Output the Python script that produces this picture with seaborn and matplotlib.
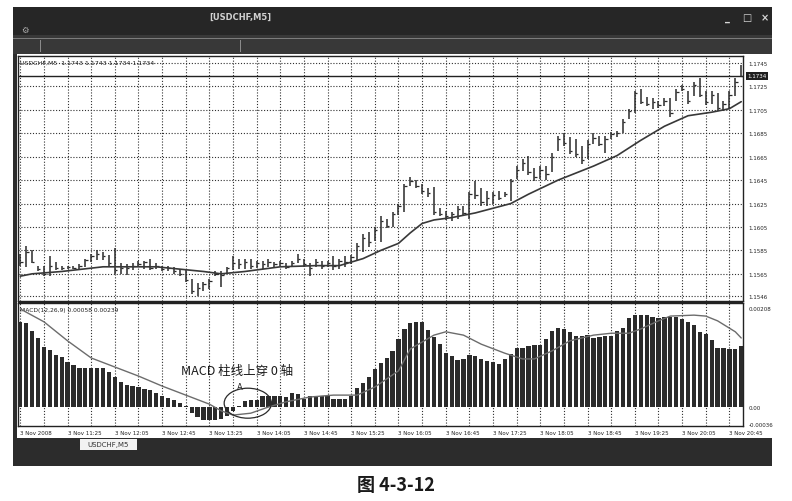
import numpy as np
import pandas as pd
import seaborn as sns
import matplotlib.pyplot as plt
from matplotlib.patches import Rectangle, Ellipse
from matplotlib.transforms import blended_transform_factory

# ---- data (USDCHF M5, 3 Nov 2008) ----
highs = [1.1582, 1.1589, 1.1585, 1.1572, 1.1572, 1.1580, 1.1575, 1.1572, 1.1572, 1.1572,
         1.1573, 1.1578, 1.1582, 1.1585, 1.1584, 1.1581, 1.1587, 1.1574, 1.1573, 1.1574,
         1.1576, 1.1576, 1.1578, 1.1574, 1.1572, 1.1572, 1.1571, 1.1569, 1.1568, 1.1561,
         1.1557, 1.1558, 1.1561, 1.1567, 1.1567, 1.1571, 1.1580, 1.1578, 1.1578, 1.1578,
         1.1576, 1.1576, 1.1578, 1.1575, 1.1576, 1.1574, 1.1576, 1.1582, 1.1578, 1.1574,
         1.1578, 1.1576, 1.1576, 1.1580, 1.1578, 1.1580, 1.1581, 1.1591, 1.1599, 1.1601,
         1.1605, 1.1614, 1.1612, 1.1618, 1.1625, 1.1642, 1.1648, 1.1645, 1.1642, 1.1638,
         1.1639, 1.1621, 1.1619, 1.1618, 1.1623, 1.1623, 1.1635, 1.1644, 1.1638, 1.1636,
         1.1635, 1.1636, 1.1635, 1.1646, 1.1657, 1.1663, 1.1666, 1.1655, 1.1657, 1.1657,
         1.1668, 1.1683, 1.1685, 1.1682, 1.1680, 1.1674, 1.1679, 1.1685, 1.1683, 1.1683,
         1.1686, 1.1687, 1.1697, 1.1706, 1.1721, 1.1723, 1.1716, 1.1715, 1.1713, 1.1715,
         1.1715, 1.1723, 1.1726, 1.1721, 1.1729, 1.1732, 1.1721, 1.1721, 1.1719, 1.1713,
         1.1721, 1.1732, 1.1743]
lows = [1.1572, 1.1571, 1.1574, 1.1567, 1.1563, 1.1563, 1.1568, 1.1568, 1.1569, 1.1569,
        1.1569, 1.1571, 1.1575, 1.1577, 1.1577, 1.1571, 1.1565, 1.1565, 1.1564, 1.1568,
        1.1571, 1.1569, 1.1568, 1.1569, 1.1567, 1.1567, 1.1565, 1.1563, 1.1558, 1.1548,
        1.1546, 1.1550, 1.1552, 1.1563, 1.1554, 1.1565, 1.1568, 1.1569, 1.1569, 1.1569,
        1.1570, 1.1569, 1.1571, 1.1571, 1.1572, 1.1569, 1.1571, 1.1574, 1.1571, 1.1563,
        1.1571, 1.1569, 1.1571, 1.1568, 1.1569, 1.1571, 1.1573, 1.1576, 1.1584, 1.1588,
        1.1593, 1.1592, 1.1604, 1.1605, 1.1615, 1.1618, 1.1640, 1.1638, 1.1633, 1.1631,
        1.1615, 1.1614, 1.1611, 1.1610, 1.1612, 1.1614, 1.1612, 1.1629, 1.1623, 1.1623,
        1.1625, 1.1628, 1.1631, 1.1627, 1.1646, 1.1653, 1.1649, 1.1644, 1.1646, 1.1645,
        1.1652, 1.1670, 1.1674, 1.1667, 1.1665, 1.1659, 1.1663, 1.1676, 1.1674, 1.1668,
        1.1680, 1.1682, 1.1685, 1.1697, 1.1702, 1.1710, 1.1708, 1.1706, 1.1707, 1.1708,
        1.1699, 1.1713, 1.1721, 1.1710, 1.1717, 1.1716, 1.1709, 1.1710, 1.1704, 1.1704,
        1.1706, 1.1717, 1.1734]
closes = [1.1575, 1.1584, 1.1575, 1.1569, 1.1565, 1.1572, 1.1570, 1.1570, 1.1571, 1.1570,
          1.1572, 1.1577, 1.1580, 1.1582, 1.1580, 1.1574, 1.1568, 1.1570, 1.1570, 1.1572,
          1.1573, 1.1575, 1.1570, 1.1572, 1.1569, 1.1570, 1.1567, 1.1565, 1.1560, 1.1550,
          1.1553, 1.1556, 1.1559, 1.1565, 1.1564, 1.1570, 1.1574, 1.1573, 1.1575, 1.1572,
          1.1574, 1.1573, 1.1575, 1.1573, 1.1574, 1.1571, 1.1574, 1.1578, 1.1573, 1.1570,
          1.1575, 1.1572, 1.1574, 1.1572, 1.1576, 1.1575, 1.1579, 1.1589, 1.1596, 1.1592,
          1.1602, 1.1610, 1.1606, 1.1616, 1.1623, 1.1640, 1.1644, 1.1640, 1.1636, 1.1634,
          1.1618, 1.1616, 1.1614, 1.1616, 1.1620, 1.1617, 1.1633, 1.1632, 1.1626, 1.1630,
          1.1632, 1.1630, 1.1633, 1.1644, 1.1654, 1.1660, 1.1652, 1.1648, 1.1654, 1.1650,
          1.1665, 1.1680, 1.1677, 1.1670, 1.1667, 1.1662, 1.1676, 1.1681, 1.1676, 1.1680,
          1.1684, 1.1685, 1.1695, 1.1704, 1.1719, 1.1712, 1.1710, 1.1712, 1.1709, 1.1713,
          1.1702, 1.1720, 1.1723, 1.1713, 1.1726, 1.1718, 1.1712, 1.1718, 1.1707, 1.1710,
          1.1718, 1.1729, 1.1734]

ma_idx = [0, 2, 7, 14, 23, 27, 31, 34, 38, 44, 50, 54, 56, 58, 61, 64, 66, 68, 70, 73,
          77, 83, 86, 91, 97, 101, 105, 109, 113, 117, 120, 122]
ma_val = [1.1563, 1.1565, 1.1567, 1.1571, 1.1571, 1.1569, 1.1567, 1.1565, 1.1567, 1.1571,
          1.1572, 1.1572, 1.1575, 1.1578, 1.1585, 1.1591, 1.1600, 1.1608, 1.1611, 1.1613,
          1.1617, 1.1625, 1.1633, 1.1645, 1.1657, 1.1666, 1.1679, 1.1691, 1.1700, 1.1703,
          1.1706, 1.1712]

macd_hist = [0.00179, 0.00176, 0.00160, 0.00145, 0.00126, 0.00120, 0.00109, 0.00105, 0.00095, 0.00088,
             0.00082, 0.00082, 0.00082, 0.00082, 0.00082, 0.00074, 0.00063, 0.00053, 0.00046, 0.00044,
             0.00042, 0.00038, 0.00036, 0.00029, 0.00023, 0.00019, 0.00015, 0.00008, 0.00002, -0.00013,
             -0.00021, -0.00027, -0.00027, -0.00027, -0.00025, -0.00019, -0.00008, 0.00002, 0.00013, 0.00015,
             0.00015, 0.00023, 0.00023, 0.00023, 0.00023, 0.00021, 0.00029, 0.00027, 0.00017, 0.00023,
             0.00023, 0.00023, 0.00023, 0.00017, 0.00017, 0.00017, 0.00023, 0.00040, 0.00050, 0.00063,
             0.00080, 0.00092, 0.00103, 0.00118, 0.00143, 0.00164, 0.00176, 0.00179, 0.00179, 0.00162,
             0.00147, 0.00132, 0.00113, 0.00107, 0.00099, 0.00101, 0.00109, 0.00107, 0.00101, 0.00097,
             0.00095, 0.00090, 0.00101, 0.00111, 0.00124, 0.00124, 0.00128, 0.00130, 0.00130, 0.00143,
             0.00160, 0.00166, 0.00164, 0.00158, 0.00149, 0.00149, 0.00151, 0.00145, 0.00147, 0.00149,
             0.00149, 0.00160, 0.00166, 0.00187, 0.00193, 0.00193, 0.00193, 0.00189, 0.00187, 0.00189,
             0.00189, 0.00189, 0.00185, 0.00179, 0.00172, 0.00158, 0.00153, 0.00141, 0.00124, 0.00124,
             0.00122, 0.00122, 0.00128]

sig_idx = [0, 4, 8, 12, 16, 20, 24, 28, 32, 34, 36, 39, 42, 45, 49, 53, 57, 60, 64, 66,
           70, 72, 75, 78, 82, 85, 87, 90, 93, 97, 100, 103, 105, 108, 110, 114, 116, 118, 121, 122]
sig_val = [0.00206, 0.00179, 0.00139, 0.00103, 0.00084, 0.00065, 0.00044, 0.00025, 0.00006, -0.00008,
           -0.00017, -0.00013, 0.00000, 0.00011, 0.00021, 0.00025, 0.00025, 0.00042, 0.00076, 0.00122,
           0.00151, 0.00158, 0.00151, 0.00132, 0.00113, 0.00101, 0.00101, 0.00118, 0.00139, 0.00151,
           0.00155, 0.00155, 0.00164, 0.00181, 0.00191, 0.00193, 0.00191, 0.00181, 0.00158, 0.00145]

price_ticks = [1.1745, 1.1725, 1.1705, 1.1685, 1.1665, 1.1645, 1.1625, 1.1605, 1.1585, 1.1565, 1.1546]
macd_ticks = [0.00208, 0.0, -0.00036]
macd_tick_labels = ["0.00208", "0.00", "-0.00036"]
time_pos = [0, 8, 16, 24, 32, 40, 48, 56, 64, 72, 80, 88, 96, 104, 112, 120]
time_labels = ["3 Nov 2008", "3 Nov 11:25", "3 Nov 12:05", "3 Nov 12:45", "3 Nov 13:25",
               "3 Nov 14:05", "3 Nov 14:45", "3 Nov 15:25", "3 Nov 16:05", "3 Nov 16:45",
               "3 Nov 17:25", "3 Nov 18:05", "3 Nov 18:45", "3 Nov 19:25", "3 Nov 20:05",
               "3 Nov 20:45"]
last_price = 1.1734

sns.set_theme(style="white")
plt.rcParams['font.family'] = ['DejaVu Sans', 'Noto Sans CJK SC']

W, H = 792, 502
fig = plt.figure(figsize=(W / 100, H / 100), dpi=100)
fig.patch.set_facecolor("white")


def fbox(x0, y0, x1, y1):
    # pixel box (top-left origin) -> figure fraction rect
    return (x0 / W, 1 - y1 / H), (x1 - x0) / W, (y1 - y0) / H


def frect(x0, y0, x1, y1, color, z=0):
    xy, w, h = fbox(x0, y0, x1, y1)
    fig.add_artist(Rectangle(xy, w, h, transform=fig.transFigure, facecolor=color,
                             edgecolor="none", zorder=z))


# window frame
frect(13, 8, 772, 467, "#2c2c2c")
frect(13, 8, 772, 36, "#262626")
frect(13, 36, 772, 55, "#383838")
frect(13, 38.5, 772, 40, "#7c7c7c")
for xx in [40, 240]:
    frect(xx, 41, xx + 1, 53, "#8a8a8a")
frect(17, 55, 772, 439, "white")
frect(80, 440, 137, 451, "#f2f2f2")
fig.text(108.5 / W, 1 - 445.5 / H, "USDCHF,M5", fontsize=5, color="#333333", ha="center", va="center")
fig.text(240 / W, 1 - 17 / H, "[USDCHF,M5]", fontsize=6, color="#d0d0d0", ha="center",
         va="center", fontweight="bold")
fig.text(25 / W, 1 - 30 / H, "\u2699", fontsize=6, color="#b0b0b0", ha="center", va="center")
for xx, s in [(727, "_"), (747, "\u25a1"), (765, "\u00d7")]:
    fig.text(xx / W, 1 - 18 / H, s, fontsize=7, color="#d8d8d8", ha="center", va="center",
             fontweight="bold")

# caption
fig.text(396 / W, 1 - 486 / H, "图 4-3-12", fontsize=13, fontweight="bold", color="#1a1a1a",
         ha="center", va="center", family=['Noto Sans CJK SC', 'DejaVu Sans'])

bars = np.arange(len(highs))
xlim = (-0.39, 122.3)
grid_kw = dict(color="#303030", lw=0.8, linestyle=(0, (1.0, 1.6)), zorder=0.5)

# ---- price panel ----
xy, w, h = fbox(18, 57, 743, 302)
ax1 = fig.add_axes([xy[0], xy[1], w, h])
ax1.set_facecolor("white")
for v in price_ticks:
    ax1.axhline(v, **grid_kw)
for t in range(0, 124, 4):
    ax1.axvline(t, **grid_kw)
ax1.vlines(bars, lows, highs, color="#2a2a2a", lw=1.1, zorder=3)
ax1.hlines(closes, bars, bars + 0.4, color="#2a2a2a", lw=0.9, zorder=3)
sns.lineplot(x=ma_idx, y=ma_val, ax=ax1, color="#383838", lw=1.2, zorder=4)
ax1.axhline(last_price, color="#222222", lw=1.0, zorder=2)
ax1.set_xlim(*xlim)
ax1.set_ylim(1.15418, 1.17510)
ax1.yaxis.tick_right()
ax1.set_yticks(price_ticks)
ax1.set_yticklabels([f"{v:.4f}" for v in price_ticks])
ax1.tick_params(axis="y", length=0, pad=4, labelsize=4, labelcolor="#222222")
ax1.set_xticks([])
ax1.set_xlabel("")
ax1.set_ylabel("")
for s in ax1.spines.values():
    s.set_color("#222222")
    s.set_linewidth(1.0)
ax1.text(0.003, 0.975, "USDCHF,M5  1.1743 1.1743 1.1734 1.1734", transform=ax1.transAxes,
         fontsize=4.5, color="#222222", va="center", ha="left")
tr = blended_transform_factory(ax1.transAxes, ax1.transData)
ax1.text(1.006, last_price, f"{last_price:.4f}", transform=tr, fontsize=4, color="white",
         va="center", ha="left", clip_on=False,
         bbox=dict(boxstyle="square,pad=0.25", facecolor="#1e1e1e", edgecolor="none"))

# thick separator between the two panels
frect(18, 301.5, 743, 304.5, "#222222", z=5)

# ---- MACD panel ----
xy, w, h = fbox(18, 304, 743, 427)
ax2 = fig.add_axes([xy[0], xy[1], w, h])
ax2.set_facecolor("white")
for t in range(0, 124, 4):
    ax2.axvline(t, **grid_kw)
df_macd = pd.DataFrame({"bar": bars, "macd": macd_hist})
sns.barplot(data=df_macd, x="bar", y="macd", native_scale=True, color="#2b2b2b",
            saturation=1, width=0.72, errorbar=None, linewidth=0, ax=ax2, zorder=3)
sns.lineplot(x=sig_idx, y=sig_val, ax=ax2, color="#6c6c6c", lw=1.0, zorder=4)
ax2.set_xlim(*xlim)
ax2.set_ylim(-0.000399, 0.002185)
ax2.yaxis.tick_right()
ax2.set_yticks(macd_ticks)
ax2.set_yticklabels(macd_tick_labels)
ax2.tick_params(axis="y", length=0, pad=4, labelsize=4, labelcolor="#222222")
ax2.set_xticks(time_pos)
ax2.set_xticklabels(time_labels, ha="left")
ax2.tick_params(axis="x", length=0, pad=3, labelsize=4, labelcolor="#222222")
ax2.set_xlabel("")
ax2.set_ylabel("")
for s in ax2.spines.values():
    s.set_color("#222222")
    s.set_linewidth(1.0)
ax2.text(0.003, 0.945, "MACD(12,26,9) 0.00058 0.00239", transform=ax2.transAxes,
         fontsize=4.3, color="#222222", va="center", ha="left")

# annotation: histogram crossing above zero
ax2.text(36.7, 0.00076, "MACD 柱线上穿 0 轴", fontsize=9, color="#1a1a1a", ha="center",
         va="center", zorder=6, family=['Noto Sans CJK SC', 'DejaVu Sans'])
ax2.text(37.2, 0.00044, "A", fontsize=6, color="#1a1a1a", ha="center", va="center", zorder=6)
ax2.add_patch(Ellipse((38.5, 0.00008), 8.0, 0.00063, angle=0, facecolor="none",
                      edgecolor="#2a2a2a", lw=0.9, zorder=6))

fig.savefig("out.png", dpi=100)
